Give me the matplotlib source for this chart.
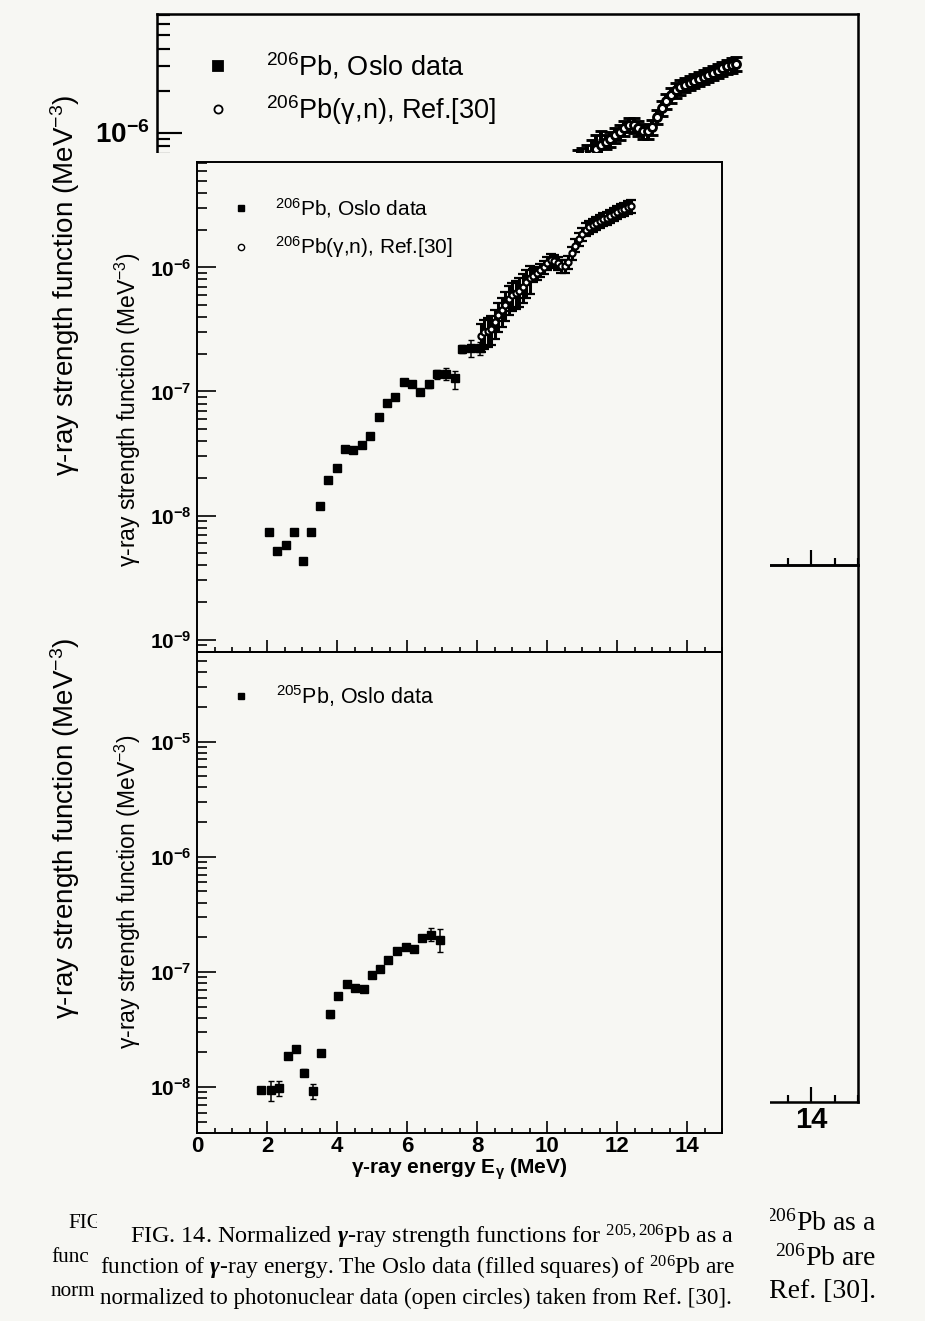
import numpy as np
import matplotlib
matplotlib.use('Agg')
import matplotlib.pyplot as plt
from matplotlib.ticker import LogLocator, FuncFormatter, MultipleLocator, NullFormatter
from matplotlib.patches import Rectangle
from matplotlib.lines import Line2D
from matplotlib.transforms import Bbox

plt.rcParams['font.family'] = ['Liberation Sans', 'DejaVu Sans']
plt.rcParams['font.weight'] = 'bold'
plt.rcParams['mathtext.fontset'] = 'custom'
plt.rcParams['mathtext.rm'] = 'Liberation Sans'
plt.rcParams['mathtext.it'] = 'Liberation Serif:italic'
plt.rcParams['mathtext.default'] = 'regular'

W, H = 925, 1321
PAPER = '#f7f7f3'

# 206Pb Oslo data (filled squares)
e206 = [2.05, 2.28, 2.53, 2.77, 3.02, 3.26, 3.50, 3.74, 3.99, 4.23, 4.46, 4.70, 4.94,
        5.19, 5.43, 5.67, 5.90, 6.15, 6.38, 6.63, 6.86, 7.11, 7.36, 7.57, 7.83, 8.08]
s206 = [7.3e-9, 5.2e-9, 5.8e-9, 7.3e-9, 4.3e-9, 7.4e-9, 1.19e-8, 1.93e-8, 2.41e-8,
        3.47e-8, 3.39e-8, 3.73e-8, 4.38e-8, 6.18e-8, 8.09e-8, 9.08e-8, 1.20e-7, 1.14e-7,
        9.9e-8, 1.14e-7, 1.38e-7, 1.38e-7, 1.28e-7, 2.21e-7, 2.23e-7, 2.25e-7]
s206_lo = [7.0e-9, 5.0e-9, 5.5e-9, 7.0e-9, 4.1e-9, 7.0e-9, 1.13e-8, 1.84e-8, 2.3e-8,
           3.3e-8, 3.2e-8, 3.55e-8, 4.15e-8, 5.9e-8, 7.7e-8, 8.6e-8, 1.13e-7, 1.08e-7,
           9.4e-8, 1.07e-7, 1.27e-7, 1.24e-7, 1.04e-7, 2.05e-7, 1.90e-7, 1.97e-7]
s206_hi = [7.7e-9, 5.5e-9, 6.1e-9, 7.7e-9, 4.5e-9, 7.8e-9, 1.25e-8, 2.02e-8, 2.52e-8,
           3.65e-8, 3.55e-8, 3.9e-8, 4.6e-8, 6.5e-8, 8.5e-8, 9.5e-8, 1.26e-7, 1.2e-7,
           1.04e-7, 1.21e-7, 1.50e-7, 1.55e-7, 1.47e-7, 2.38e-7, 2.60e-7, 2.52e-7]

# 206Pb(g,n), Ref.[30] (open circles)
e_gn = [8.1, 8.2, 8.3, 8.4, 8.5, 8.6, 8.7, 8.8, 8.9, 9.0, 9.1, 9.2, 9.3, 9.4, 9.5,
        9.6, 9.7, 9.8, 9.9, 10.0, 10.1, 10.2, 10.3, 10.4, 10.5, 10.6, 10.7, 10.8, 10.9,
        11.0, 11.1, 11.2, 11.3, 11.4, 11.5, 11.6, 11.7, 11.8, 11.9, 12.0, 12.1, 12.2,
        12.3, 12.4]
s_gn = [2.8e-7, 3.0e-7, 3.1e-7, 3.2e-7, 3.6e-7, 4.1e-7, 4.5e-7, 5.0e-7, 5.6e-7, 6.0e-7,
        6.2e-7, 6.5e-7, 7.0e-7, 7.6e-7, 8.2e-7, 8.6e-7, 9.0e-7, 9.6e-7, 1.01e-6, 1.08e-6,
        1.14e-6, 1.13e-6, 1.08e-6, 1.03e-6, 1.02e-6, 1.10e-6, 1.30e-6, 1.50e-6, 1.68e-6,
        1.86e-6, 2.02e-6, 2.13e-6, 2.21e-6, 2.28e-6, 2.36e-6, 2.44e-6, 2.52e-6, 2.60e-6,
        2.69e-6, 2.78e-6, 2.88e-6, 2.98e-6, 3.05e-6, 3.12e-6]

# 205Pb Oslo data (filled squares)
e205 = [1.84, 2.11, 2.35, 2.59, 2.83, 3.07, 3.31, 3.55, 3.79, 4.03, 4.28, 4.51, 4.76,
        4.99, 5.23, 5.47, 5.72, 5.96, 6.20, 6.44, 6.68, 6.93]
s205 = [9.5e-9, 9.4e-9, 9.9e-9, 1.85e-8, 2.16e-8, 1.34e-8, 9.2e-9, 1.99e-8, 4.33e-8,
        6.2e-8, 7.93e-8, 7.26e-8, 7.1e-8, 9.47e-8, 1.06e-7, 1.26e-7, 1.51e-7, 1.65e-7,
        1.58e-7, 1.98e-7, 2.11e-7, 1.88e-7]
s205_lo = [9.1e-9, 7.6e-9, 8.3e-9, 1.77e-8, 2.06e-8, 1.24e-8, 7.9e-9, 1.9e-8, 4.0e-8,
           5.9e-8, 7.55e-8, 6.9e-8, 6.75e-8, 9.0e-8, 1.01e-7, 1.2e-7, 1.44e-7, 1.57e-7,
           1.5e-7, 1.88e-7, 1.85e-7, 1.48e-7]
s205_hi = [9.9e-9, 1.13e-8, 1.13e-8, 1.94e-8, 2.26e-8, 1.44e-8, 1.07e-8, 2.08e-8, 4.55e-8,
           6.5e-8, 8.3e-8, 7.6e-8, 7.45e-8, 9.9e-8, 1.11e-7, 1.32e-7, 1.58e-7, 1.73e-7,
           1.66e-7, 2.08e-7, 2.43e-7, 2.34e-7]

x_ticks = [0, 2, 4, 6, 8, 10, 12, 14]
ylim_top = (10 ** -9.1, 10 ** -5.15)
ylim_bot = (4e-9, 6e-5)

lab_206 = '$^{206}$Pb, Oslo data'
lab_gn = '$^{206}$Pb(γ,n), Ref.[30]'
lab_205 = '$^{205}$Pb, Oslo data'
ylab = 'γ-ray strength function (MeV$^{-3}$)'
xlab = 'γ-ray energy E$_{γ}$ (MeV)'

caption = ['FIG. 14. Normalized $\\mathit{γ}$-ray strength functions for $^{205,206}$Pb as a',
           'function of $\\mathit{γ}$-ray energy. The Oslo data (filled squares) of $^{206}$Pb are',
           'normalized to photonuclear data (open circles) taken from Ref. [30].']
# pieces of the larger caption that stick out on both sides
cap_left = ['FIG.', 'func', 'norm']
cap_right = ['$^{206}$Pb as a', '$^{206}$Pb are', 'Ref. [30].']


def box(x0, y0, x1, y1):
    # pixel box (top-left origin) -> figure fraction rect
    return [x0 / W, 1 - y1 / H, (x1 - x0) / W, (y1 - y0) / H]


def decade_label(v, p):
    return '$10^{%d}$' % round(np.log10(v))


def style_panel(ax, ylim, k, tick_size, show_x):
    ax.set_yscale('log')
    ax.set_xlim(0, 15)
    ax.set_ylim(*ylim)
    ax.patch.set_alpha(0)
    for s in ax.spines.values():
        s.set_linewidth(1.4 * k)
    ax.set_xticks(x_ticks)
    ax.xaxis.set_minor_locator(MultipleLocator(0.5))
    ax.yaxis.set_major_locator(LogLocator(10, numticks=20))
    ax.yaxis.set_minor_locator(LogLocator(10, subs=np.arange(2, 10), numticks=20))
    ax.yaxis.set_major_formatter(FuncFormatter(decade_label))
    ax.yaxis.set_minor_formatter(NullFormatter())
    ax.tick_params(which='both', direction='in', top=False, right=False, width=1.2 * k,
                   labelsize=tick_size)
    ax.tick_params(axis='x', which='major', length=8.5 * k, pad=2 * k, labelbottom=show_x)
    ax.tick_params(axis='x', which='minor', length=3.6 * k)
    ax.tick_params(axis='y', which='major', length=14 * k, pad=4 * k)
    ax.tick_params(axis='y', which='minor', length=7 * k)


def draw_data(ax, k, top):
    if top:
        rel = np.where(np.array(e_gn) < 9.6, 0.26, 0.12)
        ax.errorbar(e_gn, s_gn, yerr=np.array(s_gn) * rel, fmt='o', ms=4.4 * k, mfc='white',
                    mec='black', mew=1.6 * k, ecolor='black', elinewidth=2.2 * k,
                    capsize=3.4 * k, capthick=1.6 * k, zorder=3)
        ax.errorbar(e206, s206, yerr=[np.array(s206) - s206_lo, np.array(s206_hi) - s206],
                    fmt='s', ms=5.5 * k, color='black', elinewidth=1.1 * k, capsize=2.5 * k, zorder=4)
    else:
        ax.errorbar(e205, s205, yerr=[np.array(s205) - s205_lo, np.array(s205_hi) - s205],
                    fmt='s', ms=5.5 * k, color='black', elinewidth=1.1 * k, capsize=2.5 * k, zorder=4)


def legend(ax, markers, labels, k, anchor, fs, pad, spacing):
    handles = [Line2D([], [], ls='none', marker=m, color='black', mfc=f,
                      ms=(5 if m == 's' else 4.5) * k, mew=1.0 * k) for m, f in markers]
    ax.legend(handles, labels, loc='upper left', bbox_to_anchor=anchor, frameon=False,
              borderpad=0, borderaxespad=0, handlelength=1.0, handletextpad=pad,
              labelspacing=spacing, prop={'size': fs, 'weight': 'normal'})


fig = plt.figure(figsize=(W / 100, H / 100), dpi=100, facecolor=PAPER)

# ---- enlarged copy of the figure in the background ----
kb = 1.3
bg1 = fig.add_axes(box(157, 14, 858, 565), zorder=0)
bg2 = fig.add_axes(box(157, 565, 858, 1102), zorder=0)
style_panel(bg1, ylim_top, kb, 20, False)
style_panel(bg2, ylim_bot, kb, 21, True)
bg1.yaxis.set_major_formatter(FuncFormatter(lambda v, p: decade_label(v, p) if v > 5e-7 else ''))
bg2.yaxis.set_major_formatter(NullFormatter())
draw_data(bg1, kb, True)
draw_data(bg2, kb, False)
legend(bg1, [('s', 'black'), ('o', 'white')], [lab_206, lab_gn], kb, (0.067, 0.934), 19.5, 1.3, 0.44)
legend(bg2, [('s', 'black')], [lab_205], kb, (0.067, 0.934), 19.5, 1.3, 0.44)
fig.text(65 / W, 1 - 285 / H, ylab, rotation=90, ha='center', va='center', fontsize=20,
         fontweight='normal', zorder=0)
fig.text(65 / W, 1 - 828 / H, ylab, rotation=90, ha='center', va='center', fontsize=20,
         fontweight='normal', zorder=0)

# paper of the front figure hides the middle of the background one
fig.add_artist(Rectangle((97 / W, 0), (770 - 97) / W, 1 - 153 / H, transform=fig.transFigure,
                         facecolor=PAPER, edgecolor='none', zorder=1))

# ---- front figure ----
ax1 = fig.add_axes(box(197, 162, 722, 652), zorder=2)
ax2 = fig.add_axes(box(197, 652, 722, 1133), zorder=2)
style_panel(ax1, ylim_top, 1.0, 15, False)
style_panel(ax2, ylim_bot, 1.0, 15, True)
ax2.tick_params(axis='x', labelsize=16)
draw_data(ax1, 1.0, True)
draw_data(ax2, 1.0, False)
legend(ax1, [('s', 'black'), ('o', 'white')], [lab_206, lab_gn], 1.0, (0.064, 0.931), 15, 1.15, 0.7)
legend(ax2, [('s', 'black')], [lab_205], 1.0, (0.064, 0.9355), 15.5, 1.1, 0.7)
fig.text(128 / W, 1 - 410 / H, ylab, rotation=90, ha='center', va='center', fontsize=16.5,
         fontweight='normal', zorder=3)
fig.text(128 / W, 1 - 892 / H, ylab, rotation=90, ha='center', va='center', fontsize=16.5,
         fontweight='normal', zorder=3)
fig.text(459 / W, 1 - 1169 / H, xlab, ha='center', va='center', fontsize=15, zorder=3)

# ---- captions ----
renderer = fig.canvas.get_renderer()


def width_at(s, size):
    t = fig.text(0, 0, s, fontfamily='Liberation Serif', fontweight='normal', fontsize=size)
    w = t.get_window_extent(renderer).width
    t.remove()
    return w


for i, (line, y) in enumerate(zip(caption, [1237, 1268, 1298])):
    x0 = 130 if i == 0 else 100
    size = 14 * (737 - x0) / width_at(line, 14)
    fig.text(x0 / W, 1 - y / H, line, fontfamily='Liberation Serif', fontweight='normal',
             fontsize=size, va='center', ha='left', zorder=3)

# left pieces sized so that "norm" still ends before the front caption
left_fs = 14 * 45 / width_at(cap_left[2], 14)
for i, y in enumerate([1223, 1258, 1292]):
    tl = fig.text((68 if i == 0 else 51) / W, 1 - y / H, cap_left[i], fontfamily='Liberation Serif',
                  fontweight='normal', fontsize=left_fs, va='center', ha='left', zorder=0.5)
    tl.set_clip_box(Bbox.from_extents(0, 0, 97, H))
    tr = fig.text(876 / W, 1 - y / H, cap_right[i], fontfamily='Liberation Serif',
                  fontweight='normal', fontsize=20, va='center', ha='right', zorder=0.5)
    tr.set_clip_box(Bbox.from_extents(770, 0, W, H))

fig.savefig('out.png', dpi=100, facecolor=PAPER)
